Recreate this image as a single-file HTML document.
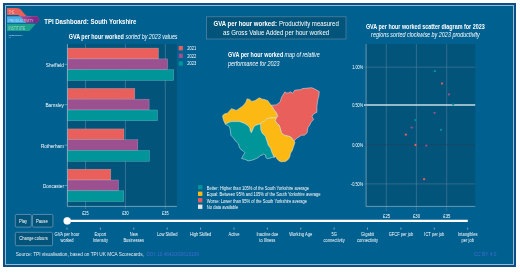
<!DOCTYPE html>
<html><head><meta charset="utf-8">
<style>
html,body{margin:0;padding:0;background:#fff;width:520px;height:275px;overflow:hidden}
svg{display:block;font-family:"Liberation Sans",sans-serif;will-change:transform}

</style></head>
<body>
<svg width="520" height="275" viewBox="0 0 520 275" fill="#fff">
<rect x="3" y="3" width="513" height="264" fill="#0b4f8a"/>
<rect x="5" y="5" width="509" height="260" fill="#9cbccc"/>
<rect x="6" y="6" width="507" height="258" fill="#006090"/>
<g>
<defs><clipPath id="bb"><rect x="7" y="16.3" width="40" height="6.6"/></clipPath>
<linearGradient id="pg" x1="20" y1="0" x2="34" y2="0" gradientUnits="userSpaceOnUse"><stop offset="0" stop-color="#b4508c"/><stop offset="1" stop-color="#7d2a8c"/></linearGradient></defs>
<path d="M7 8.07 H16 C19.5 8.07 21 9.5 22.5 11.5 L25 14.6 C26 15.8 27 16.3 29 16.3 H37.2 L39.5 19.6 L37.2 22.9 H27.5 C26 22.9 25 22.4 24 21 L21 17 C19.6 15.3 18.5 14.9 16.5 14.9 H7 Z" fill="#e95f5c"/>
<rect x="7" y="16.3" width="24" height="6.6" fill="#4aaae4"/>
<path d="M7 8.07 H16 C19.5 8.07 21 9.5 22.5 11.5 L25 14.6 C26 15.8 27 16.3 29 16.3 H37.2 L39.5 19.6 L37.2 22.9 H27.5 C26 22.9 25 22.4 24 21 L21 17 C19.6 15.3 18.5 14.9 16.5 14.9 H7 Z" fill="url(#pg)" clip-path="url(#bb)"/>
<path d="M7 23.8 H35.9 L29.6 31 H7 Z" fill="#1aa08c"/>
<g opacity="0.75">
<text x="8.8" y="13.6" font-size="4.6" fill="#fbd0ca" textLength="5.6" lengthAdjust="spacingAndGlyphs">THE</text>
<text x="8.6" y="21.6" font-size="4.4" fill="#e3f1fb" textLength="25" lengthAdjust="spacingAndGlyphs">PRODUCTIVITY</text>
<text x="8.6" y="29.7" font-size="4.6" fill="#c9efe6" textLength="16.5" lengthAdjust="spacingAndGlyphs">INSTITUTE</text>
</g>
<text x="8.8" y="35.9" font-size="2.4" fill="#e6eef3" textLength="13.9" lengthAdjust="spacingAndGlyphs">PRODUCTIVITY</text>
<text x="8.8" y="38.3" font-size="1.8" fill="#a9c0cf" textLength="2.4" lengthAdjust="spacingAndGlyphs">LAB</text>
</g>
<text x="44.2" y="23.5" font-size="7.8" font-weight="bold" textLength="92.30" lengthAdjust="spacingAndGlyphs">TPI Dashboard: South Yorkshire</text>
<text x="68.75" y="39.1" font-size="6.6" font-weight="bold" textLength="55.00" lengthAdjust="spacingAndGlyphs">GVA per hour worked</text>
<text x="125.5" y="39.1" font-size="6.6" font-style="italic" textLength="52.00" lengthAdjust="spacingAndGlyphs">sorted by 2023 values</text>
<rect x="67.4" y="44" width="109.4" height="162" fill="#03547a"/>
<g stroke="#5a87a8" stroke-width="0.6">
<line x1="85.5" y1="44" x2="85.5" y2="209"/>
<line x1="125.4" y1="44" x2="125.4" y2="209"/>
<line x1="165.3" y1="44" x2="165.3" y2="209"/>
</g>
<g stroke="#cfe0ea" stroke-opacity="0.45" stroke-width="0.5">
<rect x="67.4" y="48.10" width="91.10" height="10.8" fill="#e95f5c"/>
<rect x="67.4" y="58.90" width="100.20" height="10.8" fill="#9b5190"/>
<rect x="67.4" y="69.70" width="106.30" height="10.8" fill="#009599"/>
<rect x="67.4" y="88.40" width="67.40" height="10.8" fill="#e95f5c"/>
<rect x="67.4" y="99.20" width="81.70" height="10.8" fill="#9b5190"/>
<rect x="67.4" y="110.00" width="90.10" height="10.8" fill="#009599"/>
<rect x="67.4" y="128.90" width="56.60" height="10.8" fill="#e95f5c"/>
<rect x="67.4" y="139.70" width="70.40" height="10.8" fill="#9b5190"/>
<rect x="67.4" y="150.50" width="82.10" height="10.8" fill="#009599"/>
<rect x="67.4" y="169.20" width="43.40" height="10.8" fill="#e95f5c"/>
<rect x="67.4" y="180.00" width="51.10" height="10.8" fill="#9b5190"/>
<rect x="67.4" y="190.80" width="56.40" height="10.8" fill="#009599"/>
</g>
<line x1="67.4" y1="44" x2="67.4" y2="206.5" stroke="#9cbccc" stroke-width="0.7"/>
<line x1="67.4" y1="206.4" x2="176.8" y2="206.4" stroke="#9cbccc" stroke-width="0.7"/>
<g stroke="#9cbccc" stroke-width="0.6">
<line x1="64.5" y1="64.3" x2="67.4" y2="64.3"/>
<line x1="64.5" y1="104.7" x2="67.4" y2="104.7"/>
<line x1="64.5" y1="145.1" x2="67.4" y2="145.1"/>
<line x1="64.5" y1="185.5" x2="67.4" y2="185.5"/>
</g>
<text x="64" y="66.9" font-size="5.8" text-anchor="end" textLength="18.20" lengthAdjust="spacingAndGlyphs">Sheffield</text>
<text x="64" y="107.3" font-size="5.8" text-anchor="end" textLength="18.60" lengthAdjust="spacingAndGlyphs">Barnsley</text>
<text x="64" y="147.7" font-size="5.8" text-anchor="end" textLength="23.10" lengthAdjust="spacingAndGlyphs">Rotherham</text>
<text x="64" y="188.1" font-size="5.8" text-anchor="end" textLength="21.10" lengthAdjust="spacingAndGlyphs">Doncaster</text>
<text x="85.45" y="215" font-size="5.1" text-anchor="middle" textLength="6.50" lengthAdjust="spacingAndGlyphs">£25</text>
<text x="125.4" y="215" font-size="5.1" text-anchor="middle" textLength="6.50" lengthAdjust="spacingAndGlyphs">£30</text>
<text x="165.3" y="215" font-size="5.1" text-anchor="middle" textLength="6.50" lengthAdjust="spacingAndGlyphs">£35</text>
<rect x="178.7" y="46.00" width="4.2" height="4.4" fill="#e95f5c"/>
<text x="187.2" y="50.1" font-size="4.9" textLength="9.00" lengthAdjust="spacingAndGlyphs">2021</text>
<rect x="178.7" y="53.65" width="4.2" height="4.4" fill="#9b5190"/>
<text x="187.2" y="57.75" font-size="4.9" textLength="9.00" lengthAdjust="spacingAndGlyphs">2022</text>
<rect x="178.7" y="61.30" width="4.2" height="4.4" fill="#009599"/>
<text x="187.2" y="65.4" font-size="4.9" textLength="9.00" lengthAdjust="spacingAndGlyphs">2023</text>
<rect x="206.5" y="16.8" width="139.5" height="22.2" fill="#03547a" stroke="#5b87a6" stroke-width="0.7"/>
<text x="213.5" y="25.8" font-size="7.2" font-weight="bold" textLength="63.40" lengthAdjust="spacingAndGlyphs">GVA per hour worked:</text>
<text x="278.9" y="25.8" font-size="7.2" textLength="59.90" lengthAdjust="spacingAndGlyphs">Productivity measured</text>
<text x="223" y="35" font-size="7.2" textLength="106.20" lengthAdjust="spacingAndGlyphs">as Gross Value Added per hour worked</text>
<text x="228" y="57.4" font-size="6.6" font-weight="bold" textLength="55.20" lengthAdjust="spacingAndGlyphs">GVA per hour worked</text>
<text x="284.5" y="57.4" font-size="6.6" font-style="italic" textLength="35.30" lengthAdjust="spacingAndGlyphs">map of relative</text>
<text x="228" y="65.5" font-size="6.6" font-style="italic" textLength="51.60" lengthAdjust="spacingAndGlyphs">performance for 2023</text>
<g stroke="#e3ecf0" stroke-width="0.5" stroke-linejoin="round">
<path fill="#fdb913" d="M225.3 124.1 L223.6 120.5 L222.5 116.1 L224.1 114.1 L227.4 113.2 L231.5 108.7 L236.4 110.4 L242.9 106 L245.9 102.2 L247 98.9 L249.5 99.4 L251.9 101.4 L255.2 100.5 L259.3 97.8 L261.7 98.9 L265 99.7 L267.5 100.5 L270.7 104.6 L271.5 105.2 L274 109.6 L276.7 113.1 L277.8 116.5 L276.3 117.7 L272.3 117.9 L267.1 118.6 L264.2 121.1 L261.3 122.9 L260.5 124 L258.5 124.6 L255.5 125.4 L253.8 127.2 L252.7 129.8 L251.5 132.7 L250.4 131.5 L249.8 128.1 L248.1 125.8 L244.6 123.5 L240 121.7 L238.4 121.6 L231 121.6 Z"/>
<path fill="#e95f5c" d="M271.5 105.2 L276.2 104.9 L280 102.2 L281.6 97.3 L284.9 91.8 L286 92.9 L288.2 92.9 L290.9 91.8 L292.6 93.5 L294.7 90.2 L300.8 89.6 L302.4 88.6 L311.7 87.7 L313.9 88.6 L319.3 91.6 L318.8 96.2 L317.7 100 L316.9 106.5 L316.9 112.3 L313.6 113.9 L312 116.4 L313.6 119.6 L311.2 122.1 L309.5 125.4 L307.9 127.8 L307.1 132.7 L304.6 135.2 L301.4 135.2 L296.5 138.5 L294 140.9 L290.5 136.8 L283.8 135 L281.5 132.7 L280.4 129.2 L279.2 125.2 L276.9 123.5 L275.2 120.6 L276.3 117.7 L277.8 116.5 L276.7 113.1 L274 109.6 Z"/>
<path fill="#fdb913" d="M260.5 124 L261.3 122.9 L264.2 121.1 L267.1 118.6 L272.3 117.9 L276.3 117.7 L275.2 120.6 L276.9 123.5 L279.2 125.2 L280.4 129.2 L281.5 132.7 L283.8 135 L290.5 136.8 L294 140.9 L295 142.3 L293.2 147.7 L292.3 150.5 L290.5 153.2 L289.8 156.8 L288.2 159.5 L285.5 161.4 L281.4 161.8 L279.1 160.9 L276.8 158.6 L275.5 156.4 L274.1 157.3 L272.1 153.1 L270.6 148.5 L268.3 145.5 L266.8 140.9 L265.3 136.3 L262.2 133.3 L260.7 129.5 Z"/>
<path fill="#009599" d="M260.5 124 L260.7 129.5 L262.2 133.3 L265.3 136.3 L266.8 140.9 L268.3 145.5 L270.6 148.5 L272.1 153.1 L274.1 157.3 L272.7 157.3 L270 158.2 L267.3 158.6 L265.9 157.7 L265.5 155 L263.6 154.1 L262.3 155 L260.5 155.5 L259.1 156.8 L256.4 158.5 L252.3 160.1 L248.2 160.9 L244.9 159.3 L241.6 158.5 L243.3 155.2 L244.9 152.7 L243.3 151.1 L240.8 149.5 L239.2 147 L238.4 143.7 L235.1 140.5 L233.5 138 L231 135.5 L230.2 129.8 L229.4 126.5 L225.3 124.1 L231 121.6 L238.4 121.6 L240 121.7 L244.6 123.5 L248.1 125.8 L249.8 128.1 L250.4 131.5 L251.5 132.7 L252.7 129.8 L253.8 127.2 L255.5 125.4 L258.5 124.6 Z"/>
</g>

<rect x="198" y="185.10" width="4.4" height="4.3" fill="#009599"/>
<text x="206.8" y="189.7" font-size="5" textLength="102.30" lengthAdjust="spacingAndGlyphs">Better: Higher than 105% of the South Yorkshire average</text>
<rect x="198" y="191.60" width="4.4" height="4.3" fill="#fdb913"/>
<text x="206.8" y="196.2" font-size="5" textLength="113.80" lengthAdjust="spacingAndGlyphs">Equal: Between 95% and 105% of the South Yorkshire average</text>
<rect x="198" y="198.10" width="4.4" height="4.3" fill="#e95f5c"/>
<text x="206.8" y="202.7" font-size="5" textLength="100.30" lengthAdjust="spacingAndGlyphs">Worse: Lower than 95% of the South Yorkshire average</text>
<rect x="198" y="204.60" width="4.4" height="4.3" fill="#e6e6e6"/>
<text x="206.8" y="209.2" font-size="5" textLength="31.50" lengthAdjust="spacingAndGlyphs">No data available</text>
<text x="365.9" y="29.4" font-size="6.4" font-weight="bold" textLength="118.80" lengthAdjust="spacingAndGlyphs">GVA per hour worked scatter diagram for 2023</text>
<text x="371.1" y="37.3" font-size="6.4" font-style="italic" textLength="108.70" lengthAdjust="spacingAndGlyphs">regions sorted clockwise by 2023 productivity</text>
<rect x="366" y="44" width="109.2" height="162" fill="#03547a"/>
<g stroke="#4f7d9c" stroke-width="0.6">
<line x1="386.3" y1="44" x2="386.3" y2="211.4"/>
<line x1="416.4" y1="44" x2="416.4" y2="211.4"/>
<line x1="446.7" y1="44" x2="446.7" y2="211.4"/>
<line x1="364" y1="67.2" x2="475.2" y2="67.2"/>
<line x1="364" y1="183.9" x2="475.2" y2="183.9"/>
</g>
<line x1="364" y1="144.8" x2="475.2" y2="144.8" stroke="#25405a" stroke-width="0.6"/>
<line x1="364" y1="105" x2="475.2" y2="105" stroke="#c8dbe6" stroke-width="1.6"/>
<line x1="366.1" y1="44" x2="366.1" y2="206.5" stroke="#8fb0c4" stroke-width="0.7"/>
<line x1="366" y1="206.4" x2="475.2" y2="206.4" stroke="#8fb0c4" stroke-width="0.7"/>
<text x="363.2" y="68.8" font-size="5.2" text-anchor="end" textLength="11.06" lengthAdjust="spacingAndGlyphs">1.00%</text>
<text x="363.2" y="106.9" font-size="5.2" text-anchor="end" textLength="11.06" lengthAdjust="spacingAndGlyphs">0.50%</text>
<text x="363.2" y="146.5" font-size="5.2" text-anchor="end" textLength="11.06" lengthAdjust="spacingAndGlyphs">0.00%</text>
<text x="363.2" y="185.5" font-size="5.2" text-anchor="end" textLength="12.36" lengthAdjust="spacingAndGlyphs">-0.50%</text>
<text x="386.6" y="217.8" font-size="5.1" text-anchor="middle" textLength="7.00" lengthAdjust="spacingAndGlyphs">£25</text>
<text x="416.5" y="217.8" font-size="5.1" text-anchor="middle" textLength="7.00" lengthAdjust="spacingAndGlyphs">£30</text>
<text x="446.8" y="217.8" font-size="5.1" text-anchor="middle" textLength="7.00" lengthAdjust="spacingAndGlyphs">£35</text>
<circle cx="434.9" cy="71.2" r="1.15" fill="#009599"/>
<circle cx="442" cy="83.6" r="1.15" fill="#e95f5c"/>
<circle cx="448.9" cy="94.4" r="1.15" fill="#9b5190"/>
<circle cx="453.2" cy="104.6" r="1.15" fill="#009599"/>
<circle cx="434.6" cy="112.8" r="1.15" fill="#9b5190"/>
<circle cx="415.5" cy="120.1" r="1.15" fill="#009599"/>
<circle cx="411.7" cy="127.6" r="1.15" fill="#9b5190"/>
<circle cx="441" cy="129.8" r="1.15" fill="#009599"/>
<circle cx="405.8" cy="134.7" r="1.15" fill="#e95f5c"/>
<circle cx="415.5" cy="145" r="1.15" fill="#e95f5c"/>
<circle cx="426.3" cy="145.6" r="1.15" fill="#9b5190"/>
<circle cx="424.1" cy="179.2" r="1.15" fill="#e95f5c"/>
<g fill="#03547a" stroke="#7a9fba" stroke-width="0.7">
<rect x="15.3" y="214.4" width="16" height="12.7" rx="1.3"/>
<rect x="32.5" y="214.4" width="20.4" height="12.7" rx="1.3"/>
<rect x="15.3" y="232.3" width="37.3" height="13.4" rx="1.3"/>
</g>
<text x="23.1" y="222.6" font-size="5.4" text-anchor="middle" textLength="8.10" lengthAdjust="spacingAndGlyphs">Play</text>
<text x="41.85" y="222.6" font-size="5.4" text-anchor="middle" textLength="11.90" lengthAdjust="spacingAndGlyphs">Pause</text>
<text x="33.5" y="240.4" font-size="5.4" text-anchor="middle" textLength="28.60" lengthAdjust="spacingAndGlyphs">Change colours</text>
<line x1="67" y1="220.9" x2="467.8" y2="220.9" stroke="#fff" stroke-width="2.2"/>
<circle cx="67.2" cy="220.9" r="3.6" fill="#fff" stroke="#dfe6ea" stroke-width="0.4"/>
<g stroke="#cfdde6" stroke-width="0.6">
<line x1="67.00" y1="227.6" x2="67.00" y2="229.6"/>
<line x1="100.39" y1="227.6" x2="100.39" y2="229.6"/>
<line x1="133.78" y1="227.6" x2="133.78" y2="229.6"/>
<line x1="167.18" y1="227.6" x2="167.18" y2="229.6"/>
<line x1="200.57" y1="227.6" x2="200.57" y2="229.6"/>
<line x1="233.96" y1="227.6" x2="233.96" y2="229.6"/>
<line x1="267.35" y1="227.6" x2="267.35" y2="229.6"/>
<line x1="300.74" y1="227.6" x2="300.74" y2="229.6"/>
<line x1="334.13" y1="227.6" x2="334.13" y2="229.6"/>
<line x1="367.52" y1="227.6" x2="367.52" y2="229.6"/>
<line x1="400.92" y1="227.6" x2="400.92" y2="229.6"/>
<line x1="434.31" y1="227.6" x2="434.31" y2="229.6"/>
<line x1="467.70" y1="227.6" x2="467.70" y2="229.6"/>
</g>
<text x="67.0" y="236.4" font-size="5.4" text-anchor="middle" textLength="24.76" lengthAdjust="spacingAndGlyphs">GVA per hour</text>
<text x="67.0" y="242.1" font-size="5.4" text-anchor="middle" textLength="13.06" lengthAdjust="spacingAndGlyphs">worked</text>
<text x="100.39" y="236.4" font-size="5.4" text-anchor="middle" textLength="11.71" lengthAdjust="spacingAndGlyphs">Export</text>
<text x="100.39" y="242.1" font-size="5.4" text-anchor="middle" textLength="15.08" lengthAdjust="spacingAndGlyphs">Intensity</text>
<text x="133.78" y="236.4" font-size="5.4" text-anchor="middle" textLength="8.10" lengthAdjust="spacingAndGlyphs">New</text>
<text x="133.78" y="242.1" font-size="5.4" text-anchor="middle" textLength="20.71" lengthAdjust="spacingAndGlyphs">Businesses</text>
<text x="167.18" y="236.4" font-size="5.4" text-anchor="middle" textLength="20.49" lengthAdjust="spacingAndGlyphs">Low Skilled</text>
<text x="200.57" y="236.4" font-size="5.4" text-anchor="middle" textLength="21.39" lengthAdjust="spacingAndGlyphs">High Skilled</text>
<text x="233.96" y="236.4" font-size="5.4" text-anchor="middle" textLength="11.03" lengthAdjust="spacingAndGlyphs">Active</text>
<text x="267.35" y="236.4" font-size="5.4" text-anchor="middle" textLength="21.84" lengthAdjust="spacingAndGlyphs">Inactive due</text>
<text x="267.35" y="242.1" font-size="5.4" text-anchor="middle" textLength="15.98" lengthAdjust="spacingAndGlyphs">to Illness</text>
<text x="300.74" y="236.4" font-size="5.4" text-anchor="middle" textLength="23.18" lengthAdjust="spacingAndGlyphs">Working Age</text>
<text x="334.13" y="236.4" font-size="5.4" text-anchor="middle" textLength="5.40" lengthAdjust="spacingAndGlyphs">5G</text>
<text x="334.13" y="242.1" font-size="5.4" text-anchor="middle" textLength="21.16" lengthAdjust="spacingAndGlyphs">connectivity</text>
<text x="367.52" y="236.4" font-size="5.4" text-anchor="middle" textLength="12.83" lengthAdjust="spacingAndGlyphs">Gigabit</text>
<text x="367.52" y="242.1" font-size="5.4" text-anchor="middle" textLength="21.16" lengthAdjust="spacingAndGlyphs">connectivity</text>
<text x="400.92" y="236.4" font-size="5.4" text-anchor="middle" textLength="24.53" lengthAdjust="spacingAndGlyphs">GFCF per job</text>
<text x="434.31" y="236.4" font-size="5.4" text-anchor="middle" textLength="20.03" lengthAdjust="spacingAndGlyphs">ICT per job</text>
<text x="467.7" y="236.4" font-size="5.4" text-anchor="middle" textLength="19.59" lengthAdjust="spacingAndGlyphs">Intangibles</text>
<text x="467.7" y="242.1" font-size="5.4" text-anchor="middle" textLength="12.38" lengthAdjust="spacingAndGlyphs">per job</text>
<text x="15.7" y="255.8" font-size="5.7" fill="#e8eef2" textLength="128.20" lengthAdjust="spacingAndGlyphs">Source: TPI visualisation, based on TPI UK MCA Scorecards,</text>
<text x="146.4" y="255.8" font-size="5.7" fill="#3d6fcf" textLength="52.40" lengthAdjust="spacingAndGlyphs">DOI: 10.48420/30619199</text>
<text x="473.8" y="255.8" font-size="5.7" fill="#3d6fcf" textLength="22.50" lengthAdjust="spacingAndGlyphs">CC BY 4.0</text>
</svg>
</body></html>
